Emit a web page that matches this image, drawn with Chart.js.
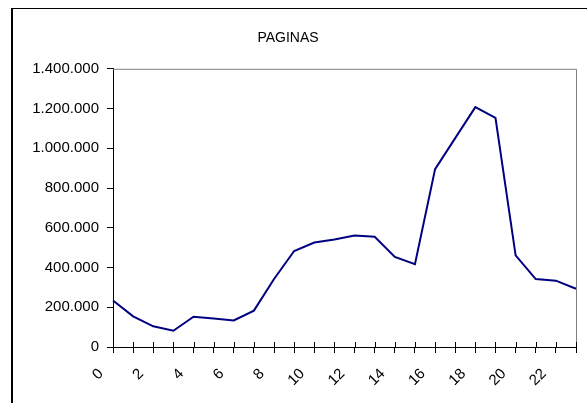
<!DOCTYPE html>
<html>
<head>
<meta charset="utf-8">
<script src="https://cdn.jsdelivr.net/npm/chart.js@4/dist/chart.umd.min.js"></script>
<style>
  html, body { margin: 0; padding: 0; background: #fff; overflow: hidden; }
  #wrap { position: relative; width: 587px; height: 403px; }
  #frame {
    position: absolute; left: 11px; top: 8px; width: 620px; height: 450px;
    border-left: 2px solid #000; border-top: 1px solid #000;
  }
  canvas { position: absolute; left: 0; top: 0; }
</style>
</head>
<body>
<div id="wrap">
  <div id="frame"></div>
  <canvas id="chart" width="587" height="403"></canvas>
</div>
<script>
const hours = ["0", "1", "2", "3", "4", "5", "6", "7", "8", "9", "10", "11",
  "12", "13", "14", "15", "16", "17", "18", "19", "20", "21", "22", "23"];

const paginas = [234000, 154000, 104000, 82000, 152000, 144000, 134000, 183000,
  342000, 483000, 526000, 541000, 561000, 555000, 453000, 417000,
  895000, 1051000, 1207000, 1153000, 461000, 342000, 334000, 293000];

const yTicks = [0, 200000, 400000, 600000, 800000, 1000000, 1200000, 1400000];

const fmt = (v) => String(v).replace(/\B(?=(\d{3})+(?!\d))/g, ".");

// gray top/right frame of the plot and the inner half of the x ticks
const plotFrame = {
  id: "plotFrame",
  afterDraw(chart) {
    const { ctx, chartArea: a } = chart;
    ctx.save();
    ctx.strokeStyle = "#808080";
    ctx.lineWidth = 1;
    ctx.beginPath();
    ctx.moveTo(a.left, a.top + 0.5);
    ctx.lineTo(a.right + 0.5, a.top + 0.5);
    ctx.lineTo(a.right + 0.5, a.bottom);
    ctx.stroke();
    const x = chart.scales.x;
    ctx.strokeStyle = "#000";
    ctx.beginPath();
    x.ticks.forEach((t, i) => {
      const px = Math.round(x.getPixelForTick(i)) + 0.5;
      ctx.moveTo(px, a.bottom - 5);
      ctx.lineTo(px, a.bottom);
    });
    ctx.stroke();
    ctx.restore();
  },
};

new Chart(document.getElementById("chart"), {
  type: "line",
  data: {
    labels: hours,
    datasets: [
      {
        label: "PAGINAS",
        data: paginas,
        borderColor: "#000080",
        borderWidth: 2,
        pointRadius: 0,
        tension: 0,
        fill: false,
      },
    ],
  },
  options: {
    responsive: false,
    animation: false,
    layout: { padding: { left: 0, right: 11, top: 0, bottom: 0 } },
    plugins: {
      legend: { display: false },
      tooltip: { enabled: false },
      title: {
        display: true,
        text: "PAGINAS",
        color: "#000",
        font: { family: "Liberation Sans, Arial, sans-serif", size: 14, weight: "normal" },
        padding: { top: 30, bottom: 22 },
      },
    },
    scales: {
      x: {
        offset: false,
        grid: { display: true, drawOnChartArea: false, tickLength: 6, color: "#000" },
        border: { color: "#000", width: 1 },
        ticks: {
          color: "#000",
          font: { family: "Liberation Sans, Arial, sans-serif", size: 15 },
          autoSkip: false,
          maxRotation: 45,
          minRotation: 45,
          labelOffset: -12,
          padding: 12,
          callback: (v, i) => (i % 2 === 0 ? hours[i] : ""),
        },
        afterFit: (s) => {
          s.height = 56;
          s.paddingLeft = 0;
          s.paddingRight = 0;
        },
      },
      y: {
        min: 0,
        max: 1400000,
        afterBuildTicks: (s) => { s.ticks = yTicks.map((v) => ({ value: v })); },
        grid: { display: true, drawOnChartArea: false, tickLength: 6, color: "#000" },
        border: { color: "#000", width: 1 },
        ticks: {
          color: "#000",
          font: { family: "Liberation Sans, Arial, sans-serif", size: 15 },
          padding: 8,
          callback: (v) => fmt(v),
        },
        afterFit: (s) => {
          s.width = 113;
          s.paddingTop = 0;
          s.paddingBottom = 0;
        },
      },
    },
  },
  plugins: [plotFrame],
});
</script>
</body>
</html>
